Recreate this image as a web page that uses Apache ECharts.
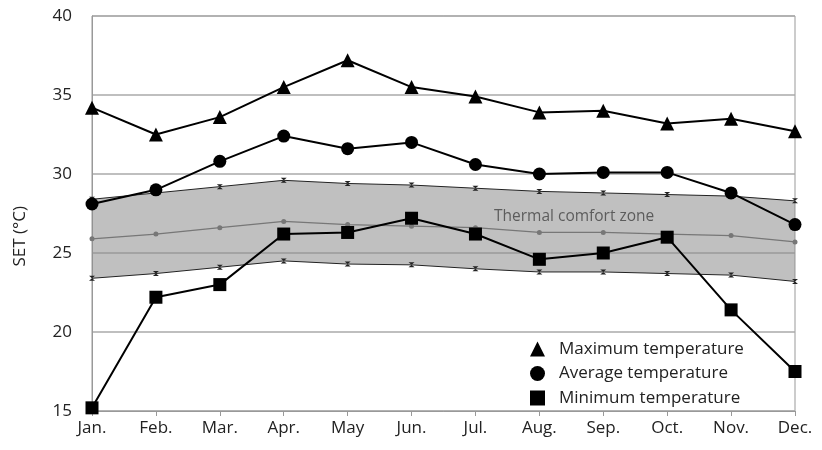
<!DOCTYPE html>
<html>
<head>
<meta charset="utf-8">
<script src="https://cdn.jsdelivr.net/npm/echarts@6/dist/echarts.min.js"></script>
<style>
  html, body { margin: 0; padding: 0; background: #fff; }
  #chart { width: 822px; height: 450px; }
</style>
</head>
<body>
<div id="chart"></div>
<script>
  // months and SET values (°C)
  var months = ['Jan.', 'Feb.', 'Mar.', 'Apr.', 'May', 'Jun.', 'Jul.', 'Aug.', 'Sep.', 'Oct.', 'Nov.', 'Dec.'];
  var maxTemp = [34.2, 32.5, 33.6, 35.5, 37.2, 35.5, 34.9, 33.9, 34.0, 33.2, 33.5, 32.7];
  var avgTemp = [28.1, 29.0, 30.8, 32.4, 31.6, 32.0, 30.6, 30.0, 30.1, 30.1, 28.8, 26.8];
  var minTemp = [15.2, 22.2, 23.0, 26.2, 26.3, 27.2, 26.2, 24.6, 25.0, 26.0, 21.4, 17.5];
  // thermal comfort zone
  var comfortUpper = [28.4, 28.8, 29.2, 29.6, 29.4, 29.3, 29.1, 28.9, 28.8, 28.7, 28.6, 28.3];
  var comfortMid = [25.9, 26.2, 26.6, 27.0, 26.8, 26.7, 26.6, 26.3, 26.3, 26.2, 26.1, 25.7];
  var comfortLower = [23.4, 23.7, 24.1, 24.5, 24.3, 24.25, 24.0, 23.8, 23.8, 23.7, 23.6, 23.2];
  var yTicks = [15, 20, 25, 30, 35, 40];

  var font = '"Open Sans", "Noto Sans", sans-serif';
  var cross = 'path://M0,0L10,0L0,10L10,10Z';

  var chart = echarts.init(document.getElementById('chart'));

  // stacked band: lower edge + thickness
  var bandWidth = comfortUpper.map(function (v, i) { return +(v - comfortLower[i]).toFixed(2); });

  var option = {
    animation: false,
    grid: { left: 92, right: 27, top: 16, bottom: 39, show: true, borderColor: '#999', borderWidth: 1 },
    legend: {
      orient: 'vertical',
      left: 525,
      top: 335,
      itemWidth: 15,
      itemHeight: 15,
      itemGap: 6.5,
      textStyle: { fontFamily: font, fontSize: 17, color: '#222', lineHeight: 18, padding: [0, 0, 0, 9] },
      data: [
        { name: 'Maximum temperature', icon: 'triangle' },
        { name: 'Average temperature', icon: 'circle' },
        { name: 'Minimum temperature', icon: 'rect' }
      ]
    },
    xAxis: {
      type: 'category',
      data: months,
      boundaryGap: false,
      axisLine: { lineStyle: { color: '#999' } },
      axisTick: { show: true, length: 5, lineStyle: { color: '#999' } },
      axisLabel: { fontFamily: font, fontSize: 17, color: '#222', margin: 9 },
      splitLine: { show: false }
    },
    yAxis: {
      type: 'value',
      min: 15,
      max: 40,
      interval: 5,
      axisLine: { show: true, lineStyle: { color: '#999' } },
      axisTick: { show: false },
      axisLabel: {
        fontFamily: font, fontSize: 17, color: '#222', margin: 20,
        formatter: function (v) { return yTicks.indexOf(v) >= 0 ? v : ''; }
      },
      splitLine: { show: true, lineStyle: { color: '#aaa', width: 1.5 } }
    },
    graphic: [
      {
        type: 'text',
        left: 12,
        top: 206,
        rotation: Math.PI / 2,
        style: { text: 'SET (°C)', fontFamily: font, fontSize: 17, fill: '#222' }
      },
      {
        type: 'text',
        left: 494,
        top: 209,
        style: { text: 'Thermal comfort zone', fontFamily: font, fontSize: 15.5, fill: '#222' }
      }
    ],
    series: [
      {
        name: 'comfortLower',
        type: 'line',
        data: comfortLower,
        stack: 'band',
        symbol: cross,
        symbolSize: [6, 5],
        itemStyle: { color: '#222' },
        lineStyle: { color: '#222', width: 1 },
        z: 2
      },
      {
        name: 'comfortUpper',
        type: 'line',
        data: bandWidth,
        stack: 'band',
        symbol: cross,
        symbolSize: [6, 5],
        itemStyle: { color: '#222' },
        lineStyle: { color: '#222', width: 1 },
        areaStyle: { color: 'rgb(140,140,140)', opacity: 0.55 },
        z: 2
      },
      {
        name: 'comfortMid',
        type: 'line',
        data: comfortMid,
        symbol: 'circle',
        symbolSize: 5,
        itemStyle: { color: '#777' },
        lineStyle: { color: '#777', width: 1.2 },
        z: 3
      },
      {
        name: 'Maximum temperature',
        type: 'line',
        data: maxTemp,
        symbol: 'triangle',
        symbolSize: 14,
        itemStyle: { color: '#000' },
        lineStyle: { color: '#000', width: 2 },
        z: 5
      },
      {
        name: 'Average temperature',
        type: 'line',
        data: avgTemp,
        symbol: 'circle',
        symbolSize: 13,
        itemStyle: { color: '#000' },
        lineStyle: { color: '#000', width: 2 },
        z: 5
      },
      {
        name: 'Minimum temperature',
        type: 'line',
        data: minTemp,
        symbol: 'rect',
        symbolSize: 13,
        itemStyle: { color: '#000' },
        lineStyle: { color: '#000', width: 2 },
        z: 5
      }
    ]
  };

  chart.setOption(option);
</script>
</body>
</html>
